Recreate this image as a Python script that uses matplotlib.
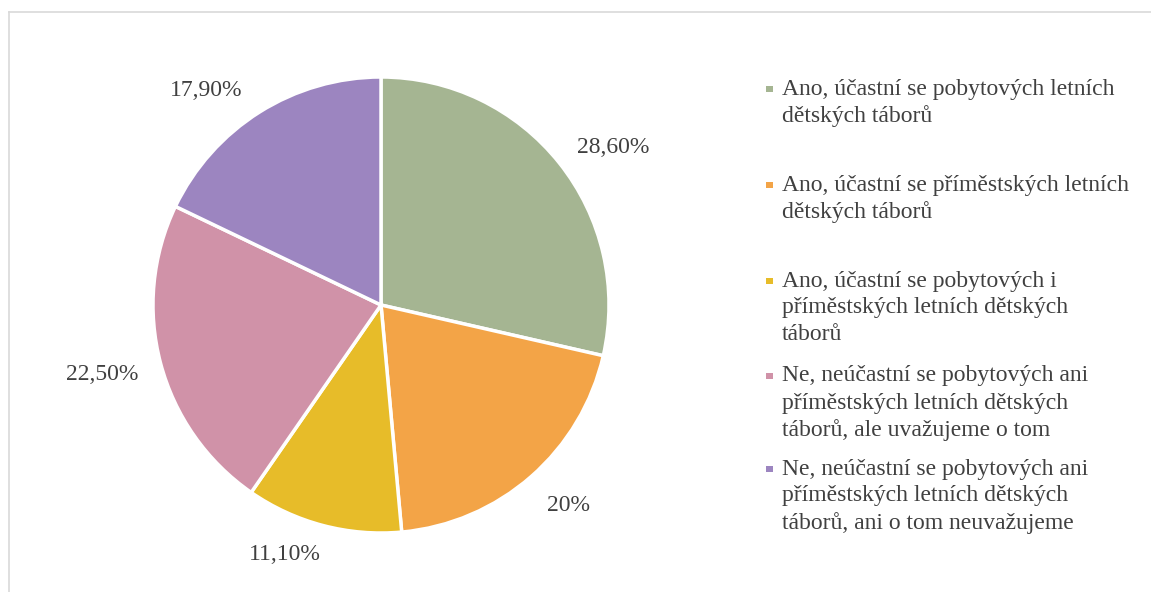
import matplotlib
matplotlib.use("Agg")
import matplotlib.pyplot as plt
import matplotlib.transforms as mtransforms
from matplotlib.lines import Line2D
from matplotlib.patches import Rectangle

plt.rcParams['font.family'] = ['Liberation Serif', 'DejaVu Serif']

values = [28.6, 20.0, 11.1, 22.5, 17.9]
value_labels = ["28,60%", "20%", "11,10%", "22,50%", "17,90%"]
categories = [
    "Ano, účastní se pobytových letních\ndětských táborů",
    "Ano, účastní se příměstských letních\ndětských táborů",
    "Ano, účastní se pobytových i\npříměstských letních dětských\ntáborů",
    "Ne, neúčastní se pobytových ani\npříměstských letních dětských\ntáborů, ale uvažujeme o tom",
    "Ne, neúčastní se pobytových ani\npříměstských letních dětských\ntáborů, ani o tom neuvažujeme",
]
colors = ["#A5B592", "#F3A447", "#E7BC29", "#D092A8", "#9C85C0"]
text_color = "#404040"
FS = 17

W, H = 1151, 592
fig = plt.figure(figsize=(W / 100, H / 100), dpi=100)
fig.patch.set_facecolor("white")

# chart border (extends past right/bottom edges)
fig.add_artist(Line2D([8.5 / W, 8.5 / W], [-0.01, 1 - 11.5 / H], transform=fig.transFigure,
                      color="#D9D9D9", lw=1.2))
fig.add_artist(Line2D([8.5 / W, 1.01], [1 - 11.5 / H, 1 - 11.5 / H], transform=fig.transFigure,
                      color="#D9D9D9", lw=1.2))

cx, cy, r = 381, H - 305, 228
ax = fig.add_axes([(cx - r) / W, (cy - r) / H, 2 * r / W, 2 * r / H])
wedges, texts = ax.pie(values, colors=colors, startangle=90, counterclock=False,
                       labels=value_labels, labeldistance=1.11,
                       wedgeprops=dict(edgecolor="white", linewidth=2.5),
                       textprops=dict(color=text_color, fontsize=FS))
# small pixel nudges to mimic the original label placement
nudges = [(-2, 0), (-1, -10), (4, -5), (2, -5), (-4, 0)]
for t, (dx, dy) in zip(texts, nudges):
    t.set_transform(ax.transData + mtransforms.Affine2D().translate(dx, dy))
ax.set_xlim(-1, 1)
ax.set_ylim(-1, 1)
ax.set_aspect("equal")
ax.axis("off")

# legend
entry_y = [89, 185, 281, 376, 469]
line_step = 27
for cat, col, y0 in zip(categories, colors, entry_y):
    fig.add_artist(Rectangle((766 / W, 1 - (y0 + 3) / H), 6.5 / W, 6.5 / H,
                             transform=fig.transFigure, facecolor=col, edgecolor="none"))
    for i, line in enumerate(cat.split("\n")):
        fig.text(782 / W, 1 - (y0 + i * line_step) / H, line, ha="left", va="center",
                 color=text_color, fontsize=FS)

fig.savefig("out.png", dpi=100, facecolor="white")
